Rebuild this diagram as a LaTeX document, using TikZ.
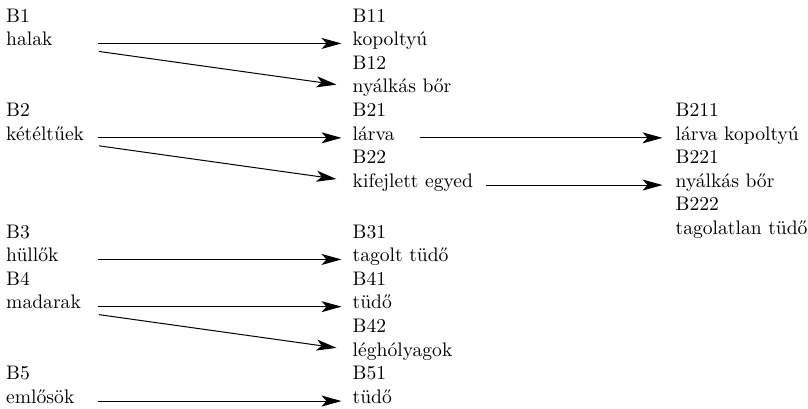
\documentclass[tikz,border=0pt]{standalone}
\usepackage{fontspec}
\newfontfamily\labelfont{lmroman10-regular.otf}
\usepackage{tikz}
\usetikzlibrary{arrows.meta, positioning, calc}

\begin{document}
\begin{tikzpicture}[x=1pt, y=1pt,
    font=\labelfont\fontsize{19.6}{24}\selectfont,
    lbl/.style={anchor=base west, inner sep=0pt},
    arr/.style={-{Stealth[length=20pt, width=11pt, inset=5pt]}, line width=1pt}]
    \useasboundingbox (0,0) rectangle (808,-408);

    % left column
    \node[lbl] (b1) at (6,-22) {B1};
    \node[lbl] (halak) at (6,-45.6) {halak};
    \node[lbl] (b2) at (6,-116.4) {B2};
    \node[lbl] (keteltuek) at (6,-140) {kétéltűek};
    \node[lbl] (b3) at (6,-238) {B3};
    \node[lbl] (hullok) at (6,-261.6) {hüllők};
    \node[lbl] (b4) at (6,-285.2) {B4};
    \node[lbl] (madarak) at (6,-308.8) {madarak};
    \node[lbl] (b5) at (6,-379.6) {B5};
    \node[lbl] (emlosok) at (6,-403.2) {emlősök};

    % middle column
    \node[lbl] (b11) at (352.5,-22) {B11};
    \node[lbl] (kopoltyu) at (352.5,-45.6) {kopoltyú};
    \node[lbl] (b12) at (352.5,-69.2) {B12};
    \node[lbl] (nyalkas) at (352.5,-92.8) {nyálkás bőr};
    \node[lbl] (b21) at (352.5,-116.4) {B21};
    \node[lbl] (larva) at (352.5,-140) {lárva};
    \node[lbl] (b22) at (352.5,-163.6) {B22};
    \node[lbl] (kifejlett) at (352.5,-187.2) {kifejlett egyed};
    \node[lbl] (b31) at (352.5,-238) {B31};
    \node[lbl] (tagolt) at (352.5,-261.6) {tagolt tüdő};
    \node[lbl] (b41) at (352.5,-285.2) {B41};
    \node[lbl] (tudoB) at (352.5,-308.8) {tüdő};
    \node[lbl] (b42) at (352.5,-332.4) {B42};
    \node[lbl] (legholyag) at (352.5,-356) {léghólyagok};
    \node[lbl] (b51) at (352.5,-379.6) {B51};
    \node[lbl] (tudoE) at (352.5,-403.2) {tüdő};

    % right column
    \node[lbl] (b211) at (675.5,-116.4) {B211};
    \node[lbl] (larvakop) at (675.5,-140) {lárva kopoltyú};
    \node[lbl] (b221) at (675.5,-163.6) {B221};
    \node[lbl] (nyalkasK) at (675.5,-187.2) {nyálkás bőr};
    \node[lbl] (b222) at (675.5,-210.8) {B222};
    \node[lbl] (tagolatlan) at (675.5,-234.4) {tagolatlan tüdő};

    \coordinate (lft) at (97.5,0);

    \draw[arr] (lft |- halak.mid) -- ([xshift=-11pt]kopoltyu.mid west);
    \draw[arr] ($(lft |- halak.mid)+(1.5,-8)$) -- ([xshift=-16pt, yshift=6pt]nyalkas.mid west);
    \draw[arr] (lft |- keteltuek.mid) -- ([xshift=-11pt]larva.mid west);
    \draw[arr] ($(lft |- keteltuek.mid)+(1.5,-8)$) -- ([xshift=-16pt, yshift=6pt]kifejlett.mid west);
    \draw[arr] (lft |- hullok.mid) -- ([xshift=-11pt]tagolt.mid west);
    \draw[arr] (lft |- madarak.mid) -- ([xshift=-11pt]tudoB.mid west);
    \draw[arr] ($(lft |- madarak.mid)+(1.5,-8)$) -- ([xshift=-16pt, yshift=6pt]legholyag.mid west);
    \draw[arr] (lft |- emlosok.mid) -- ([xshift=-11pt]tudoE.mid west);

    \draw[arr] ([xshift=25pt]larva.mid east) -- ([xshift=-13pt]larvakop.mid west);
    \draw[arr] ([xshift=13pt]kifejlett.mid east) -- ([xshift=-13pt]nyalkasK.mid west);
\end{tikzpicture}
\end{document}
